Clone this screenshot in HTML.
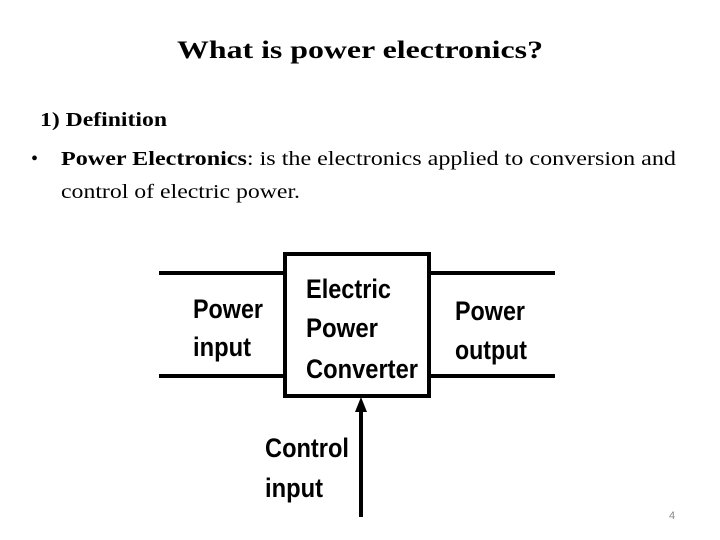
<!DOCTYPE html>
<html><head><meta charset="utf-8"><style>
html,body{margin:0;padding:0;background:#fff;width:720px;height:540px;overflow:hidden}
</style></head><body>
<svg width="720" height="540" xmlns="http://www.w3.org/2000/svg">
<g font-family="Liberation Serif, serif" fill="#000">
<text x="177" y="58" font-size="25" font-weight="bold" textLength="366" lengthAdjust="spacingAndGlyphs">What is power electronics?</text>
<text x="40" y="126" font-size="20" font-weight="bold" textLength="127" lengthAdjust="spacingAndGlyphs">1) Definition</text>
<text x="31" y="165" font-size="20">•</text>
<text x="61" y="165" font-size="20" textLength="615" lengthAdjust="spacingAndGlyphs"><tspan font-weight="bold">Power Electronics</tspan>: is the electronics applied to conversion and</text>
<text x="61" y="198" font-size="20" textLength="239" lengthAdjust="spacingAndGlyphs">control of electric power.</text>
</g>
<g stroke="#000" stroke-width="4" fill="none">
<line x1="159" y1="273" x2="285" y2="273"/>
<line x1="159" y1="376" x2="285" y2="376"/>
<line x1="429" y1="273" x2="555" y2="273"/>
<line x1="429" y1="376" x2="555" y2="376"/>
<rect x="285" y="254" width="144" height="142"/>
<line x1="361" y1="517" x2="361" y2="408"/>
</g>
<polygon points="361,397 355,412 367,412" fill="#000"/>
<g font-family="Liberation Sans, Arial, sans-serif" font-weight="bold" font-size="27" fill="#000">
<text x="193" y="318" textLength="70" lengthAdjust="spacingAndGlyphs">Power</text>
<text x="193" y="356" textLength="58" lengthAdjust="spacingAndGlyphs">input</text>
<text x="306" y="298" textLength="85" lengthAdjust="spacingAndGlyphs">Electric</text>
<text x="306" y="337" textLength="72" lengthAdjust="spacingAndGlyphs">Power</text>
<text x="306" y="378" textLength="112" lengthAdjust="spacingAndGlyphs">Converter</text>
<text x="455" y="320" textLength="70" lengthAdjust="spacingAndGlyphs">Power</text>
<text x="455" y="359" textLength="72" lengthAdjust="spacingAndGlyphs">output</text>
<text x="265" y="457" textLength="84" lengthAdjust="spacingAndGlyphs">Control</text>
<text x="265" y="497" textLength="58" lengthAdjust="spacingAndGlyphs">input</text>
</g>
<text x="669" y="519" font-family="Liberation Sans, sans-serif" font-size="11" fill="#888">4</text>
</svg>
</body></html>
